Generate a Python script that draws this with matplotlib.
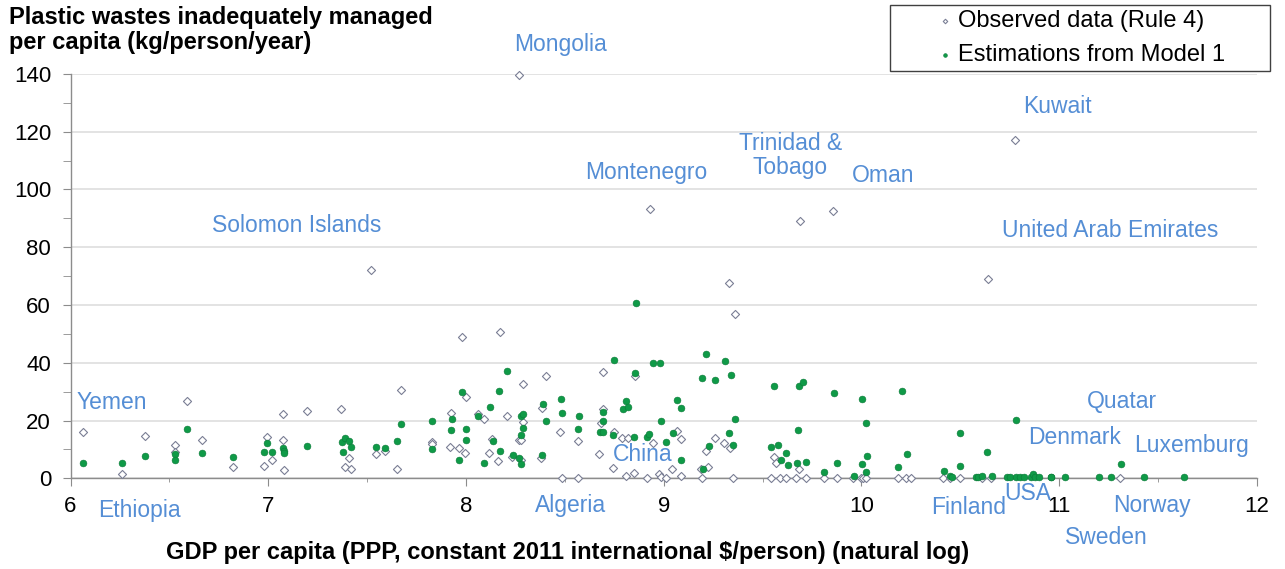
import numpy as np
import matplotlib.pyplot as plt
from matplotlib.ticker import MultipleLocator
from matplotlib.patches import Rectangle

plt.rcParams['font.family'] = ['Liberation Sans', 'DejaVu Sans']

# Observed data (Rule 4): ln(GDP per capita), kg/person/year
obs_x = [6.065, 6.26, 6.377, 6.53, 6.53, 6.59, 6.663, 6.82, 6.98, 6.995, 7.017, 7.076, 7.076, 7.08,
         7.197, 7.369, 7.41, 7.388, 7.42, 7.519, 7.545, 7.59, 7.649, 7.669, 7.826, 7.826, 7.924, 7.92,
         7.963, 7.978, 7.994, 8.0, 8.06, 8.09, 8.117, 8.13, 8.163, 8.171, 8.207, 8.235, 8.267, 8.27,
         8.28, 8.28, 8.286, 8.29, 8.38, 8.384, 8.407, 8.478, 8.486, 8.569, 8.569, 8.675, 8.685, 8.692,
         8.692, 8.742, 8.747, 8.787, 8.807, 8.817, 8.85, 8.857, 8.913, 8.93, 8.947, 8.977, 8.984,
         9.012, 9.042, 9.065, 9.085, 9.09, 9.19, 9.196, 9.213, 9.225, 9.259, 9.306, 9.329, 9.334,
         9.348, 9.361, 9.542, 9.557, 9.57, 9.587, 9.62, 9.671, 9.683, 9.688, 9.718, 9.813, 9.855,
         9.875, 9.958, 10.0, 10.01, 10.025, 10.186, 10.227, 10.253, 10.415, 10.45, 10.5, 10.612,
         10.64, 10.657, 10.775, 11.31]
obs_y = [16.2, 1.5, 14.8, 11.6, 9.2, 26.9, 13.3, 4.0, 4.3, 14.2, 6.2, 22.4, 13.1, 2.9,
         23.4, 23.9, 6.9, 4.0, 3.1, 72.0, 8.4, 9.4, 3.3, 30.5, 12.7, 11.9, 22.6, 11.0,
         10.6, 49.0, 8.7, 28.3, 22.3, 20.7, 8.7, 13.6, 6.0, 50.7, 21.6, 7.5, 139.7, 13.3,
         13.1, 6.4, 19.5, 32.7, 6.9, 24.4, 35.4, 16.0, 0.1, 12.8, 0.1, 8.4, 19.1, 24.0,
         36.9, 3.7, 16.1, 13.8, 0.8, 13.8, 1.7, 35.5, 0.1, 93.4, 12.2, 1.4, 0.6,
         0.1, 3.1, 16.5, 13.6, 0.8, 3.1, 0.1, 9.6, 3.8, 13.8, 12.2, 67.5, 10.4,
         0.1, 57.0, 0.1, 7.5, 5.4, 0.1, 0.1, 0.1, 3.1, 89.0, 0.0, 0.0, 92.4,
         0.0, 0.0, 0.0, 0.0, 0.0, 0.0, 0.0, 0.0, 0.0, 0.0, 0.0, 0.0,
         69.1, 0.0, 117.1, 0.0]

# Estimations from Model 1
est_x = [6.065, 6.26, 6.377, 6.53, 6.53, 6.59, 6.663, 6.82, 6.98, 6.995, 7.017, 7.076, 7.08, 7.08,
         7.197, 7.371, 7.378, 7.39, 7.41, 7.42, 7.546, 7.59, 7.65, 7.671, 7.826, 7.826, 7.924, 7.927,
         7.964, 7.98, 7.998, 8.0, 8.062, 8.09, 8.12, 8.135, 8.165, 8.171, 8.208, 8.24, 8.266, 8.278,
         8.28, 8.28, 8.288, 8.29, 8.384, 8.387, 8.407, 8.48, 8.486, 8.569, 8.572, 8.677, 8.692, 8.694,
         8.695, 8.744, 8.747, 8.792, 8.808, 8.82, 8.852, 8.857, 8.859, 8.913, 8.926, 8.948, 8.982,
         8.984, 9.012, 9.045, 9.067, 9.087, 9.09, 9.196, 9.2, 9.216, 9.227, 9.259, 9.31, 9.329,
         9.338, 9.348, 9.363, 9.545, 9.558, 9.58, 9.595, 9.62, 9.628, 9.674, 9.678, 9.685, 9.703,
         9.72, 9.813, 9.86, 9.877, 9.96, 10.003, 10.005, 10.022, 10.022, 10.027, 10.186, 10.205,
         10.233, 10.42, 10.45, 10.458, 10.5, 10.5, 10.58, 10.59, 10.612, 10.637, 10.66, 10.736,
         10.75, 10.78, 10.781, 10.8, 10.824, 10.86, 10.867, 10.88, 10.9, 10.957, 10.96, 11.03,
         11.2, 11.26, 11.314, 11.43, 11.63]
est_y = [5.4, 5.2, 7.8, 8.4, 6.4, 16.9, 8.7, 7.3, 9.1, 12.3, 9.1, 10.5, 9.4, 8.7,
         11.3, 12.4, 9.0, 14.0, 12.8, 11.0, 11.0, 10.4, 12.9, 18.9, 20.0, 10.3, 16.7, 20.5,
         6.4, 30.0, 13.2, 16.9, 21.6, 5.2, 24.8, 12.9, 30.2, 9.6, 37.0, 8.0, 7.0, 21.7,
         4.9, 14.9, 22.3, 17.4, 8.1, 25.7, 19.9, 27.5, 22.6, 17.2, 21.6, 16.2, 23.1, 19.7,
         16.2, 15.0, 41.0, 24.1, 26.9, 24.8, 14.2, 36.6, 60.6, 14.4, 15.4, 39.8, 40.0,
         19.9, 12.5, 15.6, 27.2, 6.4, 24.3, 34.8, 3.3, 43.2, 11.3, 33.9, 40.5, 15.6,
         35.6, 11.6, 20.6, 10.8, 31.8, 11.5, 6.4, 8.7, 4.6, 5.3, 16.8, 32.0, 33.3,
         5.7, 2.2, 29.7, 5.4, 0.7, 27.4, 4.9, 19.3, 2.2, 7.8, 3.9, 30.2,
         8.3, 2.6, 0.7, 0.6, 15.6, 4.2, 0.3, 0.3, 0.9, 9.1, 0.7, 0.5,
         0.4, 0.4, 20.1, 0.4, 0.5, 0.4, 1.4, 0.4, 0.4, 0.4, 0.4, 0.4,
         0.4, 0.4, 5.0, 0.4, 0.4]

# Country labels (x, y in data units)
labels = ['Mongolia', 'Montenegro', 'Trinidad &\nTobago', 'Oman', 'Kuwait', 'United Arab Emirates',
          'Solomon Islands', 'Yemen', 'Ethiopia', 'Algeria', 'China', 'Finland', 'USA', 'Sweden',
          'Norway', 'Quatar', 'Denmark', 'Luxemburg']
label_x = [8.48, 8.91, 9.64, 10.11, 10.99, 11.26, 7.145, 6.21, 6.35, 8.53, 8.895, 10.54, 10.84,
           11.24, 11.47, 11.32, 11.08, 11.67]
label_y = [150.2, 106.0, 111.9, 105.0, 128.6, 85.9, 87.6, 26.1, -11.0, -9.3, 8.4, -10.0, -5.1,
           -20.4, -9.3, 26.5, 14.3, 11.2]

fig = plt.figure(figsize=(12.85, 5.69), dpi=100)
ax = fig.add_axes([0.0549, 0.1594, 0.9232, 0.7106])

ax.scatter(obs_x, obs_y, marker='D', s=17, facecolor='white', edgecolor='#7a7f95',
           linewidth=0.8, clip_on=False, zorder=3, label='Observed data (Rule 4)')
ax.scatter(est_x, est_y, marker='o', s=24, color='#0f9a47', edgecolor='#0b7a38',
           linewidth=0.4, clip_on=False, zorder=4, label='Estimations from Model 1')

for t, x, y in zip(labels, label_x, label_y):
    ax.text(x, y, t, color='#558ed5', fontsize=16.5, ha='center', va='center',
            clip_on=False, linespacing=1.05)

ax.set_xlim(6, 12)
ax.set_ylim(0, 140)
ax.xaxis.set_major_locator(MultipleLocator(1))
ax.xaxis.set_minor_locator(MultipleLocator(0.5))
ax.yaxis.set_major_locator(MultipleLocator(20))
ax.yaxis.set_minor_locator(MultipleLocator(10))
ax.yaxis.grid(True, which='major', color='#e0e0e0', linewidth=1.3)
ax.set_axisbelow(True)

for s in ['top', 'right']:
    ax.spines[s].set_visible(False)
for s in ['left', 'bottom']:
    ax.spines[s].set_color('#8c8c8c')
    ax.spines[s].set_linewidth(1.0)

ax.tick_params(axis='x', which='major', length=6, color='#8c8c8c', labelsize=16, pad=7)
ax.tick_params(axis='x', which='minor', length=3, color='#8c8c8c')
ax.tick_params(axis='y', which='both', length=6, color='#8c8c8c', labelsize=16, pad=8)

fig.text(0.007, 1 - 6 / 569, 'Plastic wastes inadequately managed\nper capita (kg/person/year)',
         fontsize=17, fontweight='bold', ha='left', va='top', linespacing=1.12)
fig.text(166 / 1285, 1 - 552 / 569,
         'GDP per capita (PPP, constant 2011 international $/person) (natural log)',
         fontsize=17, fontweight='bold', ha='left', va='center')

leg = ax.legend(loc='upper left', bbox_to_anchor=(938 / 1285, 1 - 10 / 569),
                bbox_transform=fig.transFigure, fontsize=17, frameon=False,
                handlelength=0.6, handletextpad=0.25, borderpad=0, labelspacing=0.5,
                markerscale=0.55, borderaxespad=0)
fig.patches.append(Rectangle((890 / 1285, 1 - 71 / 569), 380 / 1285, 66 / 569,
                             transform=fig.transFigure, fill=False, edgecolor='#404040',
                             linewidth=1.0))

fig.savefig('out.png', dpi=100)
